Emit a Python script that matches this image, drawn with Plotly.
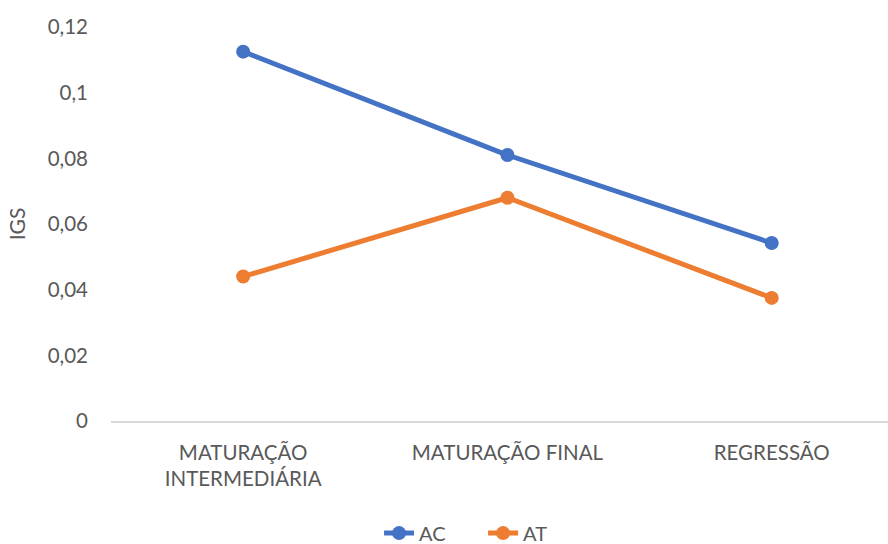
import plotly.graph_objects as go

# Gonadosomatic index (IGS) by reproductive phase
phases = ["MATURAÇÃO<br>INTERMEDIÁRIA", "MATURAÇÃO FINAL", "REGRESSÃO"]
ac_values = [0.1125, 0.0810, 0.0542]
at_values = [0.0440, 0.0680, 0.0375]
y_ticks = [0, 0.02, 0.04, 0.06, 0.08, 0.1, 0.12]

BLUE = "#4472C4"
ORANGE = "#ED7D31"
TEXT = "#595959"
FONT = "Lato, 'Open Sans', sans-serif"

fig = go.Figure()
fig.add_trace(go.Scatter(
    x=[0, 1, 2], y=ac_values, name="AC", mode="lines+markers",
    line=dict(color=BLUE, width=5), marker=dict(size=14, color=BLUE),
))
fig.add_trace(go.Scatter(
    x=[0, 1, 2], y=at_values, name="AT", mode="lines+markers",
    line=dict(color=ORANGE, width=5), marker=dict(size=14, color=ORANGE),
))

fig.update_layout(
    width=888, height=544,
    margin=dict(l=111, r=0, t=27, b=123, autoexpand=False),
    paper_bgcolor="white", plot_bgcolor="white",
    separators=",.",
    font=dict(family=FONT, size=20, color=TEXT),
    showlegend=True,
    legend=dict(
        orientation="h", x=0.544, xref="container", xanchor="center",
        y=0.02, yref="container", yanchor="middle",
        font=dict(size=20, color=TEXT), itemwidth=30, entrywidth=59,
    ),
    xaxis=dict(
        range=[-0.5, 2.44], tickmode="array", tickvals=[0, 1, 2], ticktext=phases,
        showgrid=False, zeroline=False, showline=True, linecolor="#D9D9D9", linewidth=2,
        ticks="", tickfont=dict(size=20.5, color=TEXT), ticklabelstandoff=12,
        automargin=False,
    ),
    yaxis=dict(
        range=[0, 0.12], tickmode="array", tickvals=y_ticks,
        showgrid=False, zeroline=False, showline=False, ticks="",
        tickfont=dict(size=20.5, color=TEXT), ticklabelstandoff=22,
        title=dict(text="IGS", font=dict(size=21, color=TEXT), standoff=16),
        automargin=False,
    ),
)

fig.write_html("out.html")
